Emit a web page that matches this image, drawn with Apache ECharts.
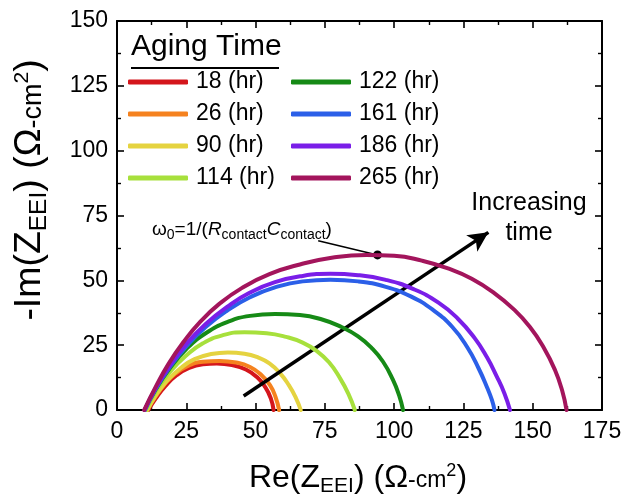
<!DOCTYPE html>
<html>
<head>
<meta charset="utf-8">
<script src="https://cdn.jsdelivr.net/npm/echarts@6/dist/echarts.min.js"></script>
<style>
  html, body { margin: 0; padding: 0; background: #ffffff; }
  #chart { width: 627px; height: 498px; }
</style>
</head>
<body>
<div id="chart"></div>
<script>
// Aging times shown in the legend
const agingTimes = ['18 (hr)', '26 (hr)', '90 (hr)', '114 (hr)', '122 (hr)', '161 (hr)', '186 (hr)', '265 (hr)'];

// Nyquist arcs of the electrode/electrolyte interface: [Re(Z), -Im(Z)] in ohm-cm2
const z18 = [[11.3,0],[14,4.5],[17.5,9.3],[21.5,13.4],[26,16.2],[31,17.6],[36,17.9],[41.5,17.3],[46.5,15.6],[50.5,12.7],[53.5,8.8],[55.5,4.5],[56.5,0]];
const z26 = [[10.8,0],[13.5,4.6],[17,9.7],[21,14],[26,17.2],[31,18.6],[37,18.9],[43,18.3],[48,16.6],[52,13.6],[55.2,9.6],[57.2,5],[58.5,0]];
const z90 = [[11,0],[14,5.6],[18,11.2],[23,16.2],[28,19.6],[34,21.6],[40,22.2],[46,21.7],[51,20.2],[55,18],[58.8,14.2],[62,9.6],[64.5,4.8],[66.3,0]];
const z114 = [[10.5,0],[14,7.3],[19,14.6],[25,21],[31,25.7],[38,28.8],[46,30],[54,29.6],[61,28.2],[67,26],[72,22.8],[76.5,18.4],[80.5,12.2],[83.5,6.2],[85.8,0]];
const z122 = [[10,0],[14,8],[19,16],[25,23.5],[32,29.6],[40,34],[48,36.3],[57,37],[66,36.6],[74,34.9],[81,32],[87,28.4],[92,23.8],[96,18.6],[99.5,11.8],[101.8,5.6],[103.2,0]];
const z161 = [[10,0],[14,8.3],[19,16.5],[25,24.5],[32,32],[40,38.5],[48,43.5],[57,47.3],[67,49.6],[77,50.2],[87,49.6],[97,47.5],[106,43.8],[114,38.6],[121,32],[126.5,24],[130.5,16],[133.5,8.8],[135.3,3.8],[136.2,0]];
const z186 = [[10,0],[14,8.5],[19,17],[25,25.5],[32,33.2],[40,40],[48,45.3],[57,49.3],[67,51.7],[77,52.5],[87,52],[97,50.2],[107,46.6],[116,41.4],[123,35.2],[129,27.8],[133.5,20.3],[137,13],[139.8,6.4],[141.8,0]];
const z265 = [[9.8,0],[14,9],[18.6,17.8],[24,26.2],[30,34],[37,41],[45,47],[55,52.4],[66,56.1],[78,58.8],[90,59.8],[100,59.5],[110,57.6],[120,54.4],[128,50.6],[136,45.2],[143,39],[149,32],[154,24],[158,15.5],[160.6,7.6],[162.2,0]];

// Annotation anchors (data coordinates)
const omega0Point = [94, 59.8];
const omega0LabelEnd = [72.6, 65.3];
const trendArrowFrom = [45.7, 5.4];
const trendArrowTo = [134, 68.5];

// Axis ranges
const xRange = [0, 175];
const yRange = [0, 150];
const tickStep = 25;

const curves = [z18, z26, z90, z114, z122, z161, z186, z265];
const lineColors = ['#d4161c', '#f5821f', '#e5d340', '#a7e03c', '#168a16', '#2b5fe8', '#7a1ee8', '#a3155c'];

const FONT = '"Liberation Sans", Arial, Helvetica, sans-serif';

const chart = echarts.init(document.getElementById('chart'), null, { renderer: 'canvas' });

const series = curves.map((pts, i) => ({
  name: agingTimes[i],
  type: 'line',
  data: pts,
  symbol: 'none',
  showSymbol: false,
  smooth: 0.5,
  silent: true,
  z: 2 + i,
  lineStyle: { width: 4, color: lineColors[i], cap: 'round', join: 'round' },
  itemStyle: { color: lineColors[i] }
}));

// Arrow marking the trend with aging time
series.push({
  type: 'line', data: [], silent: true, z: 20,
  markLine: {
    silent: true, animation: false,
    symbol: ['none', 'arrow'],
    symbolSize: [15, 20],
    label: { show: false },
    lineStyle: { color: '#000', width: 3.5, type: 'solid' },
    emphasis: { disabled: true },
    data: [[{ coord: trendArrowFrom }, { coord: trendArrowTo }]]
  }
});

// Leader line and marker for the characteristic frequency
series.push({
  type: 'line', data: [], silent: true, z: 21,
  markLine: {
    silent: true, animation: false,
    symbol: ['none', 'none'],
    label: { show: false },
    lineStyle: { color: '#000', width: 1.6, type: 'solid' },
    emphasis: { disabled: true },
    data: [[{ coord: omega0LabelEnd }, { coord: omega0Point }]]
  },
  markPoint: {
    silent: true, animation: false,
    symbol: 'circle', symbolSize: 9,
    itemStyle: { color: '#000' },
    label: { show: false },
    data: [{ coord: omega0Point }]
  }
});

const axisCommon = {
  type: 'value',
  interval: tickStep,
  splitLine: { show: false },
  axisLine: { show: true, onZero: false, lineStyle: { color: '#000', width: 2 } },
  axisTick: { show: true, inside: true, length: 7, lineStyle: { color: '#000', width: 1.6 } },
  minorTick: { show: true, splitNumber: 2, length: 4, lineStyle: { color: '#000', width: 1.4 } },
  minorSplitLine: { show: false }
};

const labelStyle = { show: true, color: '#000', fontSize: 23, fontFamily: FONT, showMinLabel: true, showMaxLabel: true, hideOverlap: false };

const legendCommon = {
  orient: 'vertical',
  top: 70,
  padding: 0,
  itemWidth: 60,
  itemHeight: 5,
  itemGap: 8,
  icon: 'roundRect',
  selectedMode: false,
  textStyle: { fontSize: 23, fontFamily: FONT, color: '#000', lineHeight: 24, padding: [0, 0, 0, 3] }
};

// Rich styles for axis titles: main text, subscript, "-cm" and superscript
const titleRich = (k) => ({
  m: { fontSize: 32 * k, lineHeight: 44 * k, fontFamily: FONT, fill: '#000', verticalAlign: 'middle' },
  s: { fontSize: 21 * k, fontFamily: FONT, fill: '#000', verticalAlign: 'middle', padding: [16 * k, 0, 0, 0] },
  c: { fontSize: 23 * k, fontFamily: FONT, fill: '#000', verticalAlign: 'middle', padding: [5.4 * k, 0, 0, 0] },
  p: { fontSize: 18 * k, fontFamily: FONT, fill: '#000', verticalAlign: 'middle', padding: [0, 0, 14 * k, 0] }
});

chart.setOption({
  animation: false,
  backgroundColor: '#ffffff',
  grid: { left: 117, right: 25, top: 21, bottom: 88, containLabel: false, outerBoundsMode: 'none' },
  xAxis: [
    Object.assign({}, axisCommon, {
      min: xRange[0], max: xRange[1], position: 'bottom',
      axisLabel: Object.assign({}, labelStyle, { margin: 10 })
    }),
    Object.assign({}, axisCommon, {
      min: xRange[0], max: xRange[1], position: 'top',
      axisLabel: { show: false }
    })
  ],
  yAxis: [
    Object.assign({}, axisCommon, {
      min: yRange[0], max: yRange[1], position: 'left',
      axisLabel: Object.assign({}, labelStyle, { margin: 9 })
    }),
    Object.assign({}, axisCommon, {
      min: yRange[0], max: yRange[1], position: 'right',
      axisLabel: { show: false }
    })
  ],
  legend: [
    Object.assign({}, legendCommon, { left: 128, data: agingTimes.slice(0, 4) }),
    Object.assign({}, legendCommon, { left: 291, data: agingTimes.slice(4) })
  ],
  graphic: [
    {
      type: 'text', x: 131, y: 47, silent: true,
      style: { text: 'Aging Time', fontSize: 30, fontFamily: FONT, fill: '#000', verticalAlign: 'middle', align: 'left' }
    },
    {
      type: 'line', silent: true,
      shape: { x1: 131, y1: 68, x2: 279, y2: 68 },
      style: { stroke: '#000', lineWidth: 2 }
    },
    {
      type: 'text', x: 529, y: 218, silent: true,
      style: { text: 'Increasing\ntime', fontSize: 25, lineHeight: 30, fontFamily: FONT, fill: '#000', align: 'center', verticalAlign: 'middle' }
    },
    {
      type: 'text', x: 152, y: 230, silent: true,
      style: {
        text: '{n|ω}{s|0}{n|=1/(}{i|R}{s|contact}{i|C}{s|contact}{n|)}',
        align: 'left', verticalAlign: 'middle',
        rich: {
          n: { fontSize: 19, lineHeight: 24, fontFamily: FONT, fill: '#000', verticalAlign: 'middle' },
          i: { fontSize: 19, lineHeight: 24, fontFamily: FONT, fontStyle: 'italic', fill: '#000', verticalAlign: 'middle' },
          s: { fontSize: 14, lineHeight: 10, fontFamily: FONT, fill: '#000', verticalAlign: 'bottom' }
        }
      }
    },
    {
      type: 'text', x: 358, y: 478, silent: true,
      style: {
        text: '{m|Re(Z}{s|EEI}{m|) (Ω}{c|-cm}{p|2}{m|)}',
        align: 'center', verticalAlign: 'middle',
        rich: titleRich(1)
      }
    },
    {
      type: 'text', x: 30, y: 190, rotation: Math.PI / 2, silent: true,
      style: {
        text: '{m|-Im(Z}{s|EEI}{m|) (Ω}{c|-cm}{p|2}{m|)}',
        align: 'center', verticalAlign: 'middle',
        rich: titleRich(1.17)
      }
    }
  ],
  series: series
});
</script>
</body>
</html>
